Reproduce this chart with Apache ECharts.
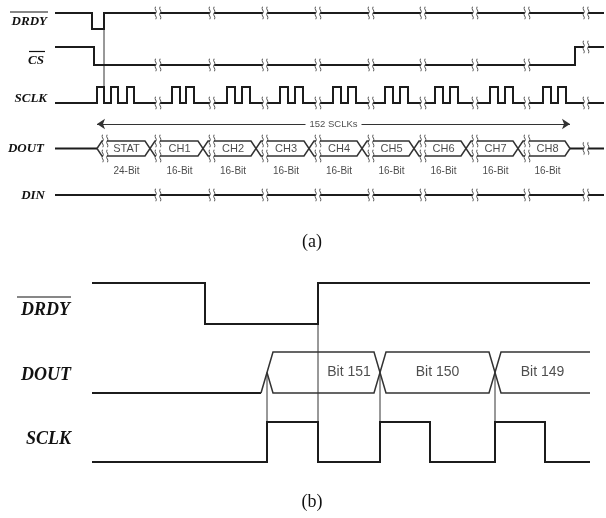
<!DOCTYPE html>
<html>
<head>
<meta charset="utf-8">
<script src="https://cdn.jsdelivr.net/npm/echarts@6/dist/echarts.min.js"></script>
<style>
html, body { margin: 0; background: #fff; }
#chart { width: 606px; height: 518px; }
</style>
</head>
<body>
<div id="chart"></div>
<script>
// ---- (a) full frame read-back, x = time units ----
var spanA = [55, 604];
var drdyEdgesA = [92, 104];
var csEdgesA = [94, 575];
var sclkEdgesA = [97, 104, 111, 118, 127, 134,
    172, 180, 186, 194, 227, 235, 242, 250, 280, 288, 295, 303,
    333, 341, 348, 356, 385, 393, 400, 408, 435, 443, 450, 458,
    490, 498, 505, 513, 543, 551, 558, 566];
var busEdgesA = [97, 150, 203, 256, 309, 362, 414, 466, 518, 570];
var busNamesA = ['STAT', 'CH1', 'CH2', 'CH3', 'CH4', 'CH5', 'CH6', 'CH7', 'CH8'];
var busBitsA = ['24-Bit', '16-Bit', '16-Bit', '16-Bit', '16-Bit', '16-Bit', '16-Bit', '16-Bit', '16-Bit'];
var busBreaksA = [105, 158, 212, 265, 318, 371, 423, 475, 527];
var breaksA = [158, 212, 265, 318, 371, 423, 475, 527, 586];
var clkCountA = '152 SCLKs';

// ---- (b) zoom on the first bits ----
var spanB = [92, 590];
var drdyEdgesB = [205, 318];
var sclkEdgesB = [267, 318, 380, 430, 495, 545];
var busEdgesB = [267, 380, 495, 590];
var busNamesB = ['Bit 151', 'Bit 150', 'Bit 149'];

// lane layout [high, low] in axis units (y grows downward)
var laneA = { drdy: [13, 29], cs: [47, 65], sclk: [87, 103], dout: [141, 156], din: [195, 195], arrow: 124 };
var laneB = { drdy: [283, 324], dout: [352, 393], sclk: [422, 462] };

function lvl(lane, v) { return v ? lane[0] : lane[1]; }

function levelAt(edges, init, t) {
    var v = init;
    edges.forEach(function (e) { if (e <= t) v = 1 - v; });
    return v;
}

function stepPts(span, edges, init, lane) {
    var v = init;
    var pts = [[span[0], lvl(lane, v)]];
    edges.forEach(function (t) {
        pts.push([t, lvl(lane, v)]);
        v = 1 - v;
        pts.push([t, lvl(lane, v)]);
    });
    pts.push([span[1], lvl(lane, v)]);
    return pts;
}

// two zigzag strokes that together draw a bus with crossings
function busStrokes(edges, lane, hw, startLow) {
    var mid = (lane[0] + lane[1]) / 2;
    var up = [], dn = [];
    var n = edges.length;
    if (startLow) {
        up.push([edges[0] - hw, lane[1]], [edges[0] + hw, lane[0]]);
        dn.push([edges[0], mid], [edges[0] + hw, lane[1]]);
    } else {
        up.push([edges[0], mid], [edges[0] + hw, lane[0]]);
        dn.push([edges[0], mid], [edges[0] + hw, lane[1]]);
    }
    var a = 0;
    for (var i = 1; i < n - 1; i++) {
        var c = edges[i];
        up.push([c - hw, a ? lane[1] : lane[0]], [c + hw, a ? lane[0] : lane[1]]);
        dn.push([c - hw, a ? lane[0] : lane[1]], [c + hw, a ? lane[1] : lane[0]]);
        a = 1 - a;
    }
    return { up: up, dn: dn, a: a, mid: mid };
}

var lineCol = '#1c1c1c';
var polys = [];   // thick signal lines
var busLines = [];
var thin = [];
var marks = [];
var texts = [];

// (a) digital traces
polys.push(stepPts(spanA, drdyEdgesA, 1, laneA.drdy));
polys.push(stepPts(spanA, csEdgesA, 1, laneA.cs));
polys.push(stepPts(spanA, sclkEdgesA, 0, laneA.sclk));
polys.push([[spanA[0], laneA.din[0]], [spanA[1], laneA.din[0]]]);

// (a) DOUT bus
var bA = busStrokes(busEdgesA, laneA.dout, 5, false);
var endA = busEdgesA[busEdgesA.length - 1];
bA.up.push([endA - 5, bA.a ? laneA.dout[1] : laneA.dout[0]], [endA, bA.mid]);
bA.dn.push([endA - 5, bA.a ? laneA.dout[0] : laneA.dout[1]], [endA, bA.mid]);
busLines.push(bA.up, bA.dn);
polys.push([[spanA[0], bA.mid], [busEdgesA[0], bA.mid]]);
polys.push([[endA, bA.mid], [spanA[1], bA.mid]]);

busNamesA.forEach(function (nm, i) {
    var x = (busBreaksA[i] + busEdgesA[i + 1]) / 2 - 1;
    texts.push({ value: [x, bA.mid], name: nm, label: { fontSize: 11, color: '#1a1a1a' } });
    texts.push({ value: [x, bA.mid + 23], name: busBitsA[i], label: { fontSize: 10, color: '#1a1a1a' } });
});

// (a) break marks
breaksA.forEach(function (t) {
    marks.push([t, lvl(laneA.drdy, levelAt(drdyEdgesA, 1, t))]);
    marks.push([t, lvl(laneA.cs, levelAt(csEdgesA, 1, t))]);
    marks.push([t, lvl(laneA.sclk, levelAt(sclkEdgesA, 0, t))]);
    marks.push([t, laneA.din[0]]);
    if (t > endA) marks.push([t, bA.mid]);
});
busBreaksA.forEach(function (t) {
    marks.push([t, laneA.dout[0]], [t, laneA.dout[1]]);
});

// (a) reference line at DRDY rising edge
thin.push([[drdyEdgesA[1], laneA.drdy[0]], [drdyEdgesA[1], laneA.sclk[0]]]);

// (a) 152 SCLKs arrow
var arrMid = (busEdgesA[0] + endA) / 2;
var arrows = [
    { coords: [[busEdgesA[0], laneA.arrow], [arrMid - 28, laneA.arrow]], symbol: ['arrow', 'none'] },
    { coords: [[arrMid + 28, laneA.arrow], [endA, laneA.arrow]], symbol: ['none', 'arrow'] }
];
texts.push({ value: [arrMid, laneA.arrow], name: clkCountA, label: { fontSize: 9.5, color: '#222' } });

// (b) traces
polys.push(stepPts(spanB, drdyEdgesB, 1, laneB.drdy));
polys.push(stepPts(spanB, sclkEdgesB, 0, laneB.sclk));
var bB = busStrokes(busEdgesB, laneB.dout, 6, true);
var endB = busEdgesB[busEdgesB.length - 1];
bB.up.push([endB, bB.a ? laneB.dout[1] : laneB.dout[0]]);
bB.dn.push([endB, bB.a ? laneB.dout[0] : laneB.dout[1]]);
busLines.push(bB.up, bB.dn);
polys.push([[spanB[0], laneB.dout[1]], [busEdgesB[0] - 6, laneB.dout[1]]]);

busNamesB.forEach(function (nm, i) {
    var x0 = Math.max(busEdgesB[i], drdyEdgesB[1]);
    var x = (x0 + busEdgesB[i + 1]) / 2;
    texts.push({ value: [x, bB.mid], name: nm, label: { fontSize: 14, color: '#222' } });
});

// (b) reference lines
[sclkEdgesB[0], sclkEdgesB[2], sclkEdgesB[4]].forEach(function (t) {
    thin.push([[t, bB.mid], [t, laneB.sclk[0]]]);
});
thin.push([[drdyEdgesB[1], laneB.drdy[0]], [drdyEdgesB[1], laneB.sclk[0]]]);

var breakPath = 'path://M2,0 C0,2.5 4,4 2,6.5 C0,9 4,10.5 2,13 M6,0 C4,2.5 8,4 6,6.5 C4,9 8,10.5 6,13';

function nameText(txt, x, y, size, over) {
    var els = [{
        type: 'text', x: x, y: y,
        style: { text: txt, font: 'italic bold ' + size + 'px "Liberation Serif"', fill: '#111', align: 'right', verticalAlign: 'middle' }
    }];
    if (over) {
        els.push({ type: 'line', shape: { x1: over[0], y1: over[2], x2: over[1], y2: over[2] }, style: { stroke: '#111', lineWidth: 1.2 } });
    }
    return els;
}

var graphics = [].concat(
    nameText('DRDY', 47, 22, 13, [10, 48, 12]),
    nameText('CS', 44, 61, 13, [29, 45, 51.5]),
    nameText('SCLK', 47, 99, 13),
    nameText('DOUT', 44, 149, 13),
    nameText('DIN', 45, 196, 13),
    nameText('DRDY', 70, 310, 18, [17, 71, 297]),
    nameText('DOUT', 71, 375, 18),
    nameText('SCLK', 71, 439, 18),
    [{ type: 'text', x: 312, y: 242, style: { text: '(a)', font: '18px "Liberation Serif"', fill: '#111', align: 'center', verticalAlign: 'middle' } },
     { type: 'text', x: 312, y: 502, style: { text: '(b)', font: '18px "Liberation Serif"', fill: '#111', align: 'center', verticalAlign: 'middle' } }]
);

var myChart = echarts.init(document.getElementById('chart'));
var option = {
    animation: false,
    backgroundColor: '#fff',
    grid: { left: 0, top: 0, right: 0, bottom: 0 },
    xAxis: { type: 'value', min: 0, max: 606, show: false },
    yAxis: { type: 'value', min: 0, max: 518, inverse: true, show: false },
    graphic: graphics,
    series: [
        {
            type: 'lines', coordinateSystem: 'cartesian2d', polyline: true, z: 3,
            lineStyle: { color: lineCol, width: 2, opacity: 1 },
            data: polys.map(function (p) { return { coords: p }; })
        },
        {
            type: 'lines', coordinateSystem: 'cartesian2d', polyline: true, z: 3,
            lineStyle: { color: '#333', width: 1.5, opacity: 1 },
            data: busLines.map(function (p) { return { coords: p }; })
        },
        {
            type: 'lines', coordinateSystem: 'cartesian2d', polyline: true, z: 2,
            lineStyle: { color: '#333', width: 1, opacity: 1 },
            data: thin.map(function (p) { return { coords: p }; })
        },
        {
            type: 'lines', coordinateSystem: 'cartesian2d', z: 3,
            symbolSize: 8,
            lineStyle: { color: '#333', width: 1, opacity: 1 },
            data: arrows
        },
        {
            type: 'scatter', z: 4, symbol: 'rect', symbolSize: [4, 4],
            itemStyle: { color: '#fff', opacity: 1 }, data: marks
        },
        {
            type: 'scatter', z: 5, symbol: breakPath, symbolSize: [6, 12],
            itemStyle: { color: 'transparent', borderColor: '#444', borderWidth: 1, opacity: 1 },
            data: marks
        },
        {
            type: 'scatter', z: 6, symbolSize: 0,
            label: { show: true, position: 'inside', formatter: '{b}', fontFamily: '"Liberation Sans", Arial, sans-serif', backgroundColor: '#fff' },
            data: texts
        }
    ]
};
myChart.setOption(option);
</script>
</body>
</html>
